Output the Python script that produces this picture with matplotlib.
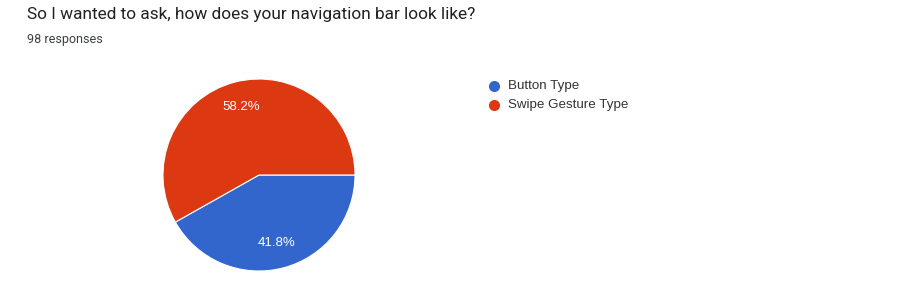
import matplotlib
matplotlib.use("Agg")
import matplotlib.pyplot as plt
from matplotlib.lines import Line2D

title = "So I wanted to ask, how does your navigation bar look like?"
subtitle = "98 responses"
categories = ["Button Type", "Swipe Gesture Type"]
counts = [41, 57]
colors = ["#3366cc", "#dc3912"]

W, H = 898, 282
fig = plt.figure(figsize=(W / 100, H / 100), dpi=100)
fig.patch.set_facecolor("white")

fig.text(27 / W, 1 - 15 / H, title, fontsize=12.4, family="Roboto",
         color="#202124", va="center", ha="left")
fig.text(27 / W, 1 - 39 / H, subtitle, fontsize=9, family="Roboto",
         color="#3c4043", va="center", ha="left")

cx, cy, r = 259, 175, 96
ax = fig.add_axes([(cx - r) / W, (H - cy - r) / H, 2 * r / W, 2 * r / H])
wedges, texts, autotexts = ax.pie(
    counts, colors=colors, startangle=0, counterclock=False,
    autopct="%1.1f%%", pctdistance=0.73,
    wedgeprops=dict(edgecolor="white", linewidth=0.8),
    textprops=dict(color="white", fontsize=9.5, family="Liberation Sans"))
ax.set_aspect("auto")
ax.set_xlim(-1, 1)
ax.set_ylim(-1, 1)
ax.axis("off")

# legend
for i, (lab, col) in enumerate(zip(categories, colors)):
    y = 1 - (86 + 19 * i) / H
    fig.add_artist(Line2D([494 / W], [y], marker="o", markersize=7,
                          color=col, linestyle="none", transform=fig.transFigure))
    fig.text(508 / W, y, lab, fontsize=9.6, family="Liberation Sans",
             color="#333333", va="center", ha="left")

fig.savefig("out.png", dpi=100, facecolor="white")
